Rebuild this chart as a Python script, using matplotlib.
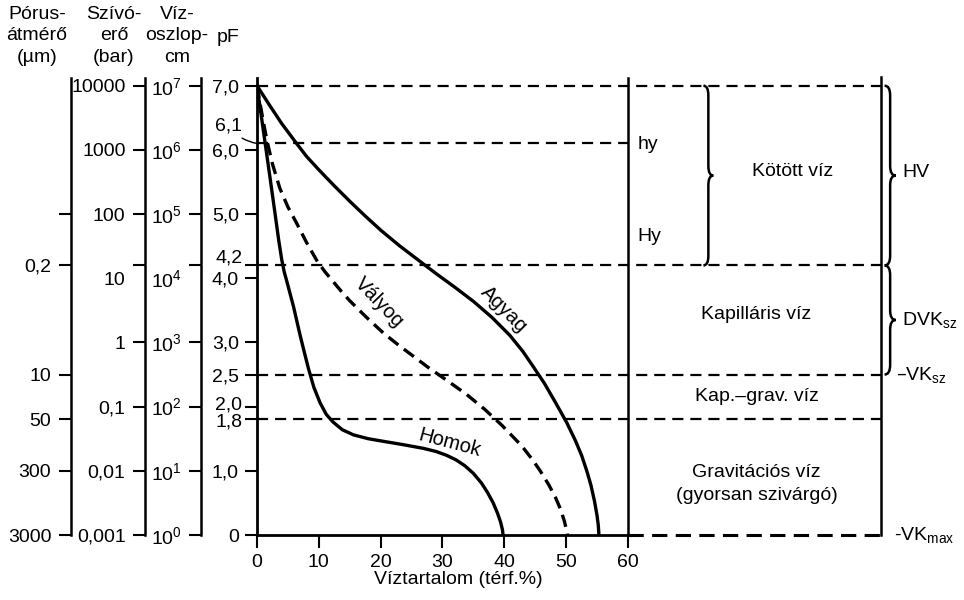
import matplotlib
matplotlib.use('Agg')
import matplotlib.pyplot as plt
from matplotlib.path import Path
from matplotlib.patches import PathPatch

plt.rcParams['font.family'] = ['Liberation Sans', 'DejaVu Sans']
plt.rcParams['mathtext.default'] = 'regular'
plt.rcParams['lines.scale_dashes'] = False

# --- data ---
water_ticks = [0, 10, 20, 30, 40, 50, 60]

agyag_x = [0, 2, 4, 6.4, 8, 10, 12.5, 15, 17.5, 20, 23, 26.4, 29, 32, 35, 38, 40.9, 43, 44.7,
           46.5, 48.3, 50.1, 51.5, 52.5, 53.3, 54, 54.6, 55.0, 55.2, 55.3]
agyag_pf = [7.0, 6.70, 6.41, 6.1, 5.9, 5.69, 5.44, 5.2, 4.97, 4.75, 4.51, 4.26, 4.07, 3.86, 3.64,
            3.39, 3.11, 2.86, 2.62, 2.36, 2.06, 1.75, 1.47, 1.24, 1.01, 0.78, 0.52, 0.3, 0.15, 0]

valyog_x = [0, 0.5, 1.0, 1.6, 2.5, 3.7, 5.0, 6.4, 8.0, 9.65, 11, 12.3, 13.6, 15, 17.5, 20.4, 23,
            25.5, 27.7, 30.7, 33.9, 36.8, 39.6, 42.8, 44.5, 45.8, 47.2, 48.3, 49.1, 49.7, 50.0, 50.2]
valyog_pf = [7.0, 6.72, 6.45, 6.15, 5.78, 5.40, 5.11, 4.86, 4.56, 4.28, 4.1, 3.95, 3.8, 3.65, 3.41,
             3.15, 2.95, 2.77, 2.61, 2.41, 2.19, 1.96, 1.71, 1.39, 1.18, 1.0, 0.78, 0.58, 0.4, 0.22, 0.1, 0]

homok_x = [0, 1.0, 2.0, 2.9, 3.5, 4.0, 4.4, 4.8, 5.9, 7.0, 7.7, 8.3, 9.2, 10.2, 11.2, 12.3, 13.8,
           15.6, 18, 20.4, 23.5, 26.9, 29, 30.7, 32.2, 33.6, 35.0, 36.3, 37.3, 38.2, 38.9, 39.4, 39.7, 39.8]
homok_pf = [7.0, 6.32, 5.64, 5.02, 4.6, 4.29, 4.1, 3.96, 3.56, 3.1, 2.83, 2.6, 2.3, 2.06, 1.88, 1.76,
            1.64, 1.56, 1.5, 1.46, 1.41, 1.35, 1.3, 1.24, 1.17, 1.08, 0.96, 0.81, 0.66, 0.5, 0.34, 0.2, 0.08, 0]

pf_ticks = [7, 6, 5, 4.2, 4, 3, 2.5, 2, 1.8, 1, 0]
pf_labels = ['7,0', '6,0', '5,0', '', '4,0', '3,0', '2,5', '', '', '1,0', '0']

pore_ticks = [5, 4.2, 2.5, 1.8, 1.0, 0]
pore_labels = ['', '0,2', '10', '50', '300', '3000']

suction_ticks = [7, 6, 5, 4.2, 4, 3, 2, 1, 0]
suction_labels = ['10000', '1000', '100', '', '10', '1', '0,1', '0,01', '0,001']
column_labels = ['10$^7$', '10$^6$', '10$^5$', '', '10$^4$', '10$^3$', '10$^2$', '10$^1$', '10$^0$']

zone_pf = [7.0, 6.1, 4.2, 2.5, 1.8, 0]
zone_names = ['Kötött víz', 'Kapilláris víz', 'Kap.–grav. víz', 'Gravitációs víz\n(gyorsan szivárgó)']
zone_label_pf = [5.66, 3.43, 2.16, 0.8]

W, H = 964, 600
PF_TOP = 7.12
X_END = 60      # end of the water content axis
X_RIGHT = 101   # right bracket line
X_MAX = (W - 257) / 6.183


def brace(ax, x, y0, y1, w, h=0.15, lw=1.8):
    mid = (y0 + y1) / 2
    xm = x + w / 2
    verts = [(x, y1), (xm, y1), (xm, y1 - h), (xm, mid + h), (xm, mid), (x + w, mid),
             (xm, mid), (xm, mid - h), (xm, y0 + h), (xm, y0), (x, y0)]
    codes = [Path.MOVETO, Path.CURVE3, Path.CURVE3, Path.LINETO, Path.CURVE3, Path.CURVE3,
             Path.CURVE3, Path.CURVE3, Path.LINETO, Path.CURVE3, Path.CURVE3]
    ax.add_patch(PathPatch(Path(verts, codes), fill=False, lw=lw, ec='black', clip_on=False))


def pf_label(ax, text, pf, dy, **kw):
    return ax.annotate(text, xy=(0, pf), xycoords=('axes fraction', 'data'), xytext=(-10.5, dy),
                       textcoords='offset points', ha='right', va='center', fontsize=14, **kw)


fig = plt.figure(figsize=(W / 100, H / 100), dpi=100)

# main chart
ax = fig.add_axes([257 / W, 65 / H, (W - 257) / W, 457 / H])
ax.set_xlim(0, X_MAX)
ax.set_ylim(0, PF_TOP)
for s in ['top', 'right']:
    ax.spines[s].set_visible(False)
ax.spines['left'].set_linewidth(2.0)
ax.spines['bottom'].set_linewidth(2.0)
ax.spines['bottom'].set_bounds(0, X_END)
ax.set_xticks(water_ticks)
ax.set_yticks(pf_ticks, pf_labels)
ax.tick_params(axis='both', direction='out', length=9, width=1.5, labelsize=14)
ax.tick_params(axis='y', pad=4)
ax.tick_params(axis='x', pad=5)
ax.text(32.6, -0.098, 'Víztartalom (térf.%)', transform=ax.get_xaxis_transform(),
        ha='center', va='center', fontsize=14)

# crowded pF labels
pf_label(ax, '4,2', 4.2, 5.5)
pf_label(ax, '2,0', 2.0, 1.5)
pf_label(ax, '1,8', 1.8, -2.0)
pf_label(ax, '6,1', 6.1, 12.5,
         arrowprops=dict(arrowstyle='-', lw=1.0, shrinkA=1, shrinkB=0,
                         connectionstyle='arc3,rad=0.2'))

# curves
ax.plot(agyag_x, agyag_pf, color='black', lw=2.4, solid_joinstyle='round')
ax.plot(valyog_x, valyog_pf, color='black', lw=2.4, dashes=(9, 5))
ax.plot(homok_x, homok_pf, color='black', lw=2.4, solid_joinstyle='round')
ax.text(40.0, 3.52, 'Agyag', rotation=-45, ha='center', va='center', fontsize=14.5)
ax.text(19.8, 3.62, 'Vályog', rotation=-46, ha='center', va='center', fontsize=14.5)
ax.text(31.2, 1.43, 'Homok', rotation=-15, ha='center', va='center', fontsize=14.5)

# zone boundaries
starts = [0, 0, 0, 0, 0, X_END]
ends = [X_RIGHT, X_END, X_RIGHT, X_RIGHT + 1.0, X_RIGHT, X_RIGHT]
for pf, x0, x1 in zip(zone_pf, starts, ends):
    lw = 2.2 if pf == 0 else 1.6
    dash = (11, 6) if pf == 0 else (8, 5)
    ax.plot([x0, x1], [pf, pf], color='black', lw=lw, dashes=dash, clip_on=False)
ax.plot([X_END, X_END], [0, PF_TOP], color='black', lw=1.8, clip_on=False)
ax.plot([X_RIGHT, X_RIGHT], [0, PF_TOP + 0.02], color='black', lw=1.8, clip_on=False)

ax.text(61.5, 6.08, 'hy', ha='left', va='center', fontsize=14)
ax.text(61.5, 4.65, 'Hy', ha='left', va='center', fontsize=14)

ax.text(86.6, zone_label_pf[0], zone_names[0], ha='center', va='center', fontsize=14)
for name, pf in zip(zone_names[1:], zone_label_pf[1:]):
    ax.text(80.8, pf, name, ha='center', va='center', fontsize=14, linespacing=1.45)

brace(ax, 72.2, zone_pf[2], zone_pf[0], 1.6)
brace(ax, X_RIGHT + 0.5, zone_pf[2], zone_pf[0], 1.8)
brace(ax, X_RIGHT + 0.5, zone_pf[3], zone_pf[2], 1.8)
ax.text(104.3, (zone_pf[0] + zone_pf[2]) / 2 + 0.05, 'HV', ha='left', va='center', fontsize=14)
ax.text(104.3, (zone_pf[2] + zone_pf[3]) / 2, 'DVK$_{sz}$', ha='left', va='center', fontsize=14)
ax.text(103.3, zone_pf[3], '–VK$_{sz}$', ha='left', va='center', fontsize=14)
ax.text(103.0, 0, '-VK$_{max}$', ha='left', va='center', fontsize=14)

# extra scales on the left
scales = [(70.7, pore_ticks, pore_labels),
          (145, suction_ticks, suction_labels),
          (201, suction_ticks, column_labels)]
for px, ticks, labels in scales:
    a = fig.add_axes([px / W, 65 / H, 0.0001, 457 / H])
    a.set_ylim(0, PF_TOP)
    a.patch.set_visible(False)
    for s in ['top', 'right', 'bottom']:
        a.spines[s].set_visible(False)
    a.spines['left'].set_linewidth(1.8)
    a.set_xticks([])
    a.set_yticks(ticks, labels)
    a.tick_params(axis='y', direction='out', length=9, width=1.5, labelsize=14, pad=5)
    if 4 in ticks:
        a.yaxis.get_major_ticks()[ticks.index(4)].tick1line.set_visible(False)

# column headers
head_kw = dict(ha='center', va='top', fontsize=14, linespacing=1.33, multialignment='center')
fig.text(37 / W, 1 - 6 / H, 'Pórus-\nátmérő\n(µm)', **head_kw)
fig.text(114 / W, 1 - 6 / H, 'Szívó-\nerő\n(bar)', **head_kw)
fig.text(177 / W, 1 - 6 / H, 'Víz-\noszlop-\ncm', **head_kw)
fig.text(228 / W, 1 - 29 / H, 'pF', **head_kw)

plt.savefig('out.png', dpi=100)
plt.close()
